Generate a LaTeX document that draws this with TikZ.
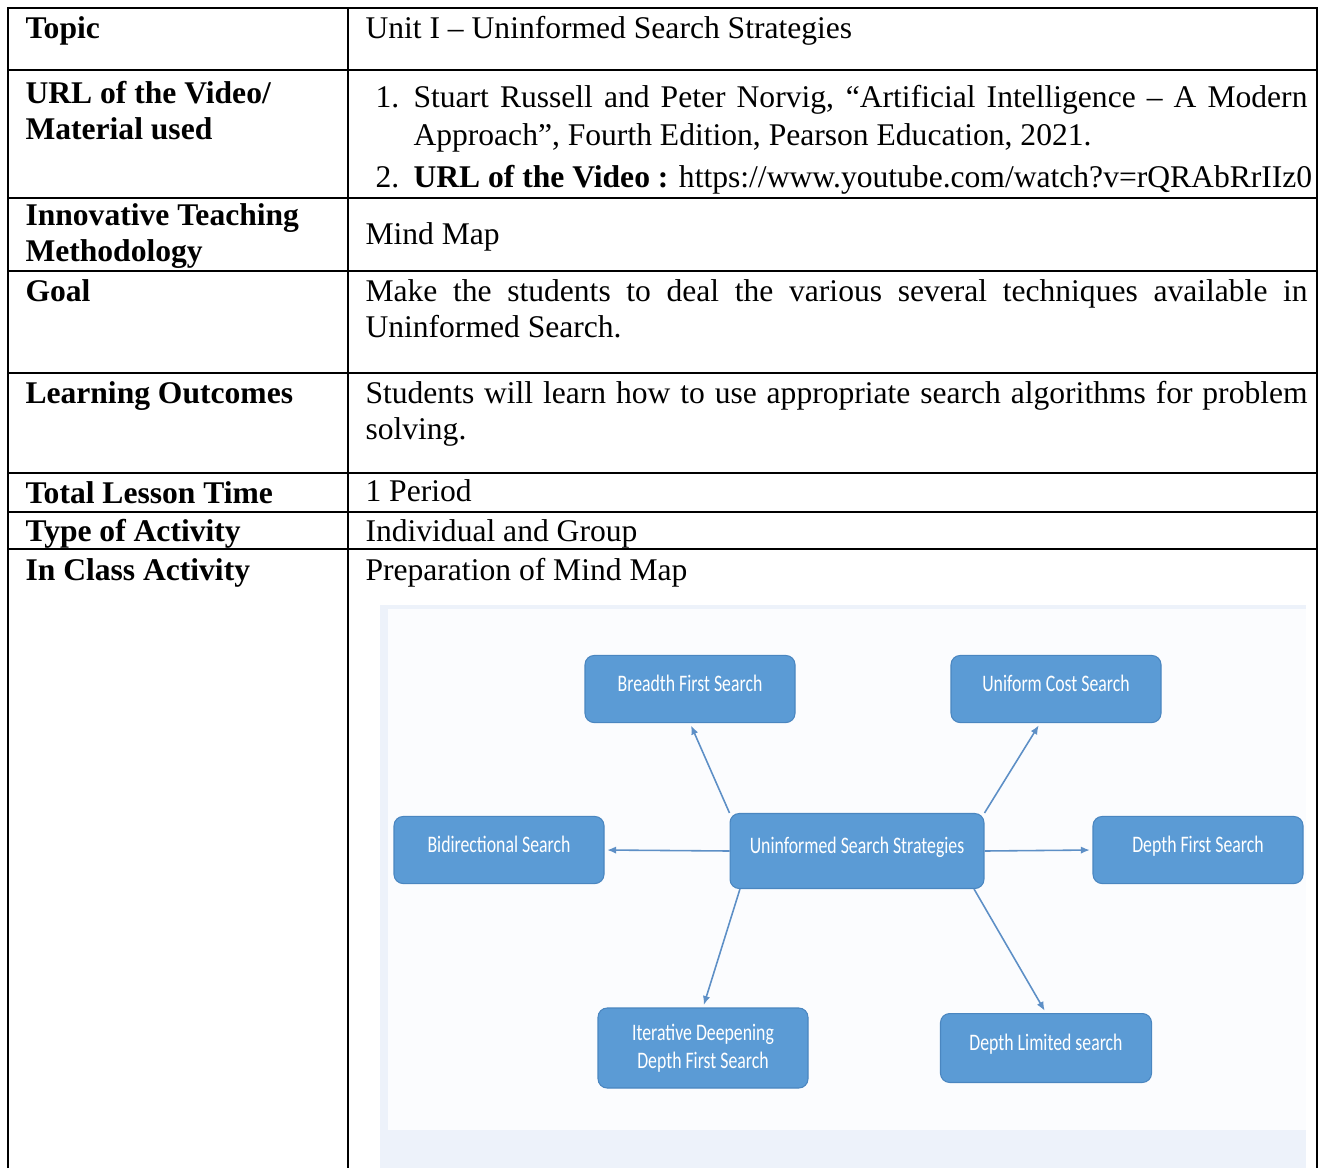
\documentclass[tikz,border=0pt]{standalone}
\usepackage{fontspec}
\setmainfont{Liberation Serif}
\newfontfamily\mapfont[FakeStretch=0.75]{Carlito}
\usetikzlibrary{arrows.meta}
\definecolor{mapblue}{HTML}{5B9BD5}
\definecolor{mapedge}{HTML}{4A86C0}
\definecolor{maparrow}{HTML}{5D8FC6}
\definecolor{mapback}{HTML}{EDF2FA}
\definecolor{mapwhite}{HTML}{FBFCFE}
% plain word spaces inside aligned nodes, and full justified lines
\newcommand{\natsp}{\spaceskip=0pt\xspaceskip=0pt\relax}
\newcommand{\fullline}[2]{\makebox[#1][s]{\natsp #2}}
\tikzset{
  >=latex,
}
\tikzstyle{every node}=[font=\fontsize{12}{14}\selectfont,inner sep=0pt]
\tikzstyle{rule}=[line width=0.8pt]
\tikzstyle{head}=[anchor=base west,font=\fontsize{12}{14}\selectfont\bfseries,text width=120pt,align=left]
\tikzstyle{cell}=[anchor=base west]
\tikzstyle{mapbox}=[draw=mapedge,fill=mapblue,rounded corners=3.5pt,text=white,align=center,
  font=\mapfont\fontsize{9}{10.6}\selectfont,minimum width=79.8pt,minimum height=25.5pt,
  text height=6.4pt,text depth=4.6pt]
\tikzstyle{link}=[draw=maparrow,line width=0.6pt,-{Latex[length=3.4pt,width=2.8pt]},shorten >=1pt]

\begin{document}
\begin{tikzpicture}[x=0.38pt,y=-0.38pt]
  \useasboundingbox (0,0) rectangle (1323,1168);
  % table frame
  \draw[rule] (8,1168) -- (8,8) -- (1317,8) -- (1317,1168);
  \draw[rule] (348,8) -- (348,1168);
  \foreach \y in {70,198,271,373,473,512,549}
    \draw[rule] (8,\y) -- (1317,\y);
  % left column
  \node[head] (topic) at (25,38) {Topic};
  \node[head] (url) at (25,103) {\natsp URL of the Video/\\Material used};
  \node[head] (method) at (25,225) {\natsp Innovative Teaching\\Methodology};
  \node[head] (goal) at (25,301) {Goal};
  \node[head] (outcome) at (25,403) {\natsp Learning Outcomes};
  \node[head] (time) at (25,503) {\natsp Total Lesson Time};
  \node[head] (type) at (25,541) {\natsp Type of Activity};
  \node[head] (activity) at (25,580) {\natsp In Class Activity};
  % right column
  \node[cell] (topictxt) at (365,38) {Unit I -- Uninformed Search Strategies};
  \node[cell] (num1) at (375,107) {1.};
  \node[cell,text width=339.7pt,align=left,font=\fontsize{12}{14.8}\selectfont] (book) at (413,107)
    {\natsp\fullline{339.7pt}{Stuart Russell and Peter Norvig, “Artificial Intelligence -- A Modern}\\
     Approach”, Fourth Edition, Pearson Education, 2021.};
  \node[cell] (num2) at (375,187) {2.};
  \node[cell] (video) at (413,187) {\textbf{URL of the Video :} https://www.youtube.com/watch?v=rQRAbRrIIz0};
  \node[cell] (methodtxt) at (365,244) {Mind Map};
  \node[cell,text width=358pt,align=left] (goaltxt) at (365,301)
    {\natsp\fullline{358pt}{Make the students to deal the various several techniques available in}\\
     Uninformed Search.};
  \node[cell,text width=358pt,align=left] (outcometxt) at (365,403)
    {\natsp\fullline{358pt}{Students will learn how to use appropriate search algorithms for problem}\\
     solving.};
  \node[cell] (timetxt) at (365,501) {1 Period};
  \node[cell] (typetxt) at (365,541) {Individual and Group};
  \node[cell] (activitytxt) at (365,580) {Preparation of Mind Map};
  % mind map
  \fill[mapback] (380,605) rectangle (1306,1168);
  \fill[mapwhite] (388,609) rectangle (1306,1130);
  \node[mapbox] (bfs) at (690,689) {Breadth First Search};
  \node[mapbox] (ucs) at (1056,689) {Uniform Cost Search};
  \node[mapbox] (bid) at (499,850) {Bidirectional Search};
  \node[mapbox,minimum width=96.5pt,minimum height=28.5pt] (uss) at (857,851) {Uninformed Search Strategies};
  \node[mapbox] (dfs) at (1198,850) {Depth First Search};
  \node[mapbox,minimum height=30.4pt,text height={},text depth={}] (ids) at (703,1048) {Iterative Deepening\\Depth First Search};
  \node[mapbox,minimum width=80.2pt,minimum height=26.2pt] (dls) at (1046,1048) {Depth Limited search};
  \draw[link] (uss.north west) -- (bfs.south);
  \draw[link] (uss.north east) -- (ucs.245);
  \draw[link] (uss.west) -- (bid.east);
  \draw[link] (uss.east) -- (dfs.west);
  \draw[link] (uss.198) -- (ids.north);
  \draw[link] (uss.342) -- (dls.north);
\end{tikzpicture}
\end{document}
